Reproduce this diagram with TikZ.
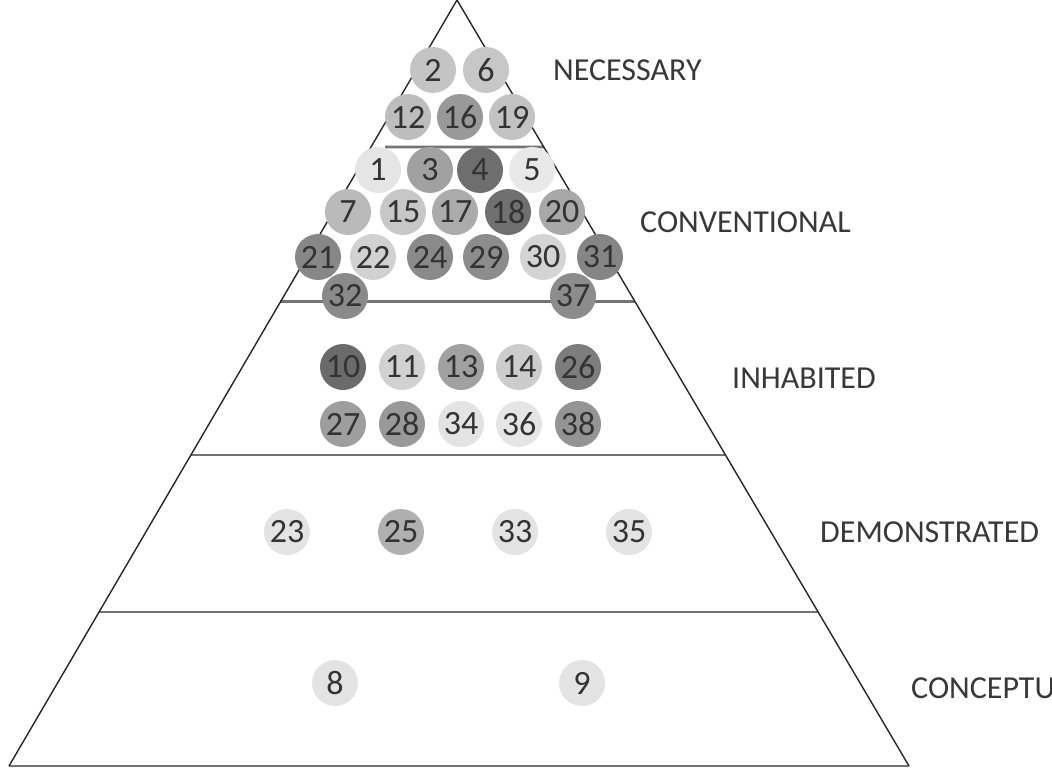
\documentclass[tikz,border=0pt]{standalone}
\usepackage{fontspec}
\setmainfont{Carlito}
\usepackage{tikz}
\usetikzlibrary{calc}

\begin{document}
\begin{tikzpicture}[x=1pt,y=-1pt,
                    case/.style={circle,minimum size=46pt,inner sep=0pt,text=black!80,
                                 font=\fontsize{34}{34}\selectfont},
                    level/.style={anchor=west,inner sep=0pt,text=black!78,
                                  font=\fontsize{32}{32}\selectfont},
                    side/.style={draw=black!85,line width=1.4pt},
                    tier/.style={draw=black!55,line width=2.8pt}]
    \clip (0,0) rectangle (1052,779);

    % pyramid
    \coordinate (top) at (457,0);
    \coordinate (bl) at (9,766);
    \coordinate (br) at (909,766);
    \coordinate (necl) at (385,147);
    \draw[tier] (necl) -- ($(top)!0.192!(br)$);
    \foreach \t in {0.394,0.594,0.799}
        \draw[tier] ($(top)!\t!(bl)$) -- ($(top)!\t!(br)$);
    \draw[tier] (bl) -- (br);
    \draw[side] (bl) -- (top) -- (br);

    % cases
    \foreach \n/\x/\y/\g in {2/433/70/23, 6/486/70/22,
            12/408/117/26, 16/460/117/40, 19/512/117/24,
            1/378/170/10, 3/430/170/37, 4/480/170/57, 5/532/170/9,
            7/348/212/27, 15/403/212/22, 17/455/212/33, 18/508/212/56, 20/562/212/34,
            21/318/257/47, 22/373/257/18, 24/430/257/46, 29/486/257/45, 30/543/257/17, 31/600/257/48,
            32/345/296/46, 37/573/296/45,
            10/343/367/58, 11/402/367/18, 13/461/367/37, 14/519/367/20, 26/578/367/51,
            27/343/424/38, 28/402/424/40, 34/461/424/11, 36/519/424/10, 38/578/424/42,
            23/287/532/11, 25/401/532/31, 33/515/532/11, 35/629/532/11,
            8/335/683/11, 9/582/683/11}
        \node[case,fill=black!\g] (n\n) at (\x,\y) {\n};

    % levels
    \node[level] (necessary)    at (553,70)  {NECESSARY};
    \node[level] (conventional) at (640,222) {CONVENTIONAL};
    \node[level] (inhabited)    at (732,378) {INHABITED};
    \node[level] (demonstrated) at (820,532) {DEMONSTRATED};
    \node[level] (conceptual)   at (911,688) {CONCEPTUAL};
\end{tikzpicture}
\end{document}
